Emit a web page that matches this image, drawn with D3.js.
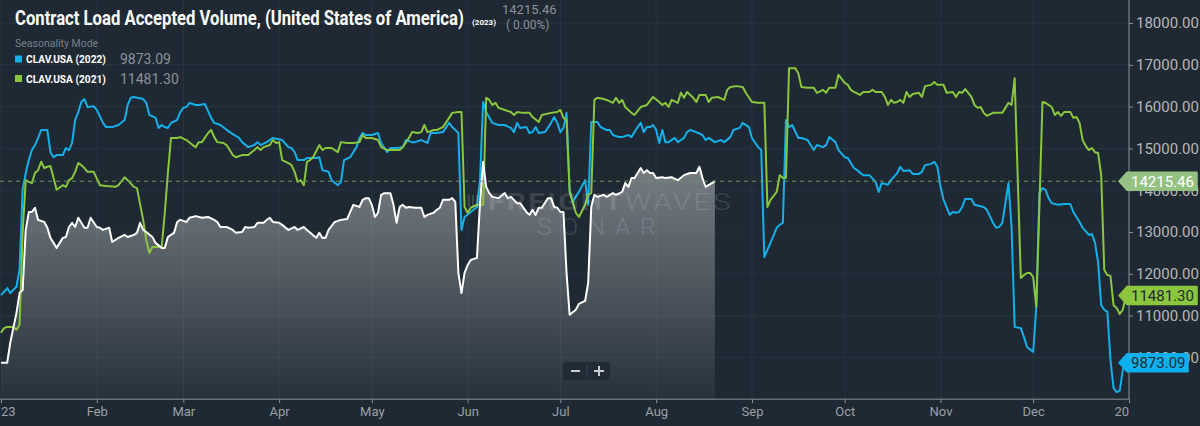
<!DOCTYPE html>
<html><head><meta charset="utf-8">
<script src="https://cdn.jsdelivr.net/npm/d3@7"></script>
<style>
html,body{margin:0;padding:0;background:#1e2933;}
svg{display:block;font-family:Roboto,"Noto Sans",sans-serif;}
</style></head>
<body>
<svg id="chart" width="1200" height="426"></svg>
<script>
// ---- data: [day of year (0 = Jan 1), value] ----
const clav2023 = [[0,9870],[2,9870],[3,10350],[5,11060],[6,11540],[7,11610],[8,13050],[9,13480],[10,13480],[11,13580],[12,13290],[14,13240],[15,13100],[16,12860],[18,12620],[19,12740],[20,12860],[21,12880],[22,13120],[23,13220],[24,13120],[25,13340],[26,13220],[27,13100],[28,13100],[29,13340],[31,13120],[32,13100],[33,13050],[35,13100],[36,12760],[38,12860],[40,12930],[41,12880],[43,12930],[44,12980],[45,13220],[46,13050],[47,13000],[49,12880],[50,12740],[52,12620],[53,12620],[54,12880],[55,12930],[56,12980],[57,13240],[58,13290],[60,13240],[61,13340],[63,13380],[65,13340],[67,13360],[69,13290],[70,13240],[71,13120],[73,13120],[75,13050],[76,12980],[78,13000],[79,13120],[80,13100],[82,13120],[83,13220],[85,13220],[86,13290],[87,13340],[88,13240],[90,13220],[91,13170],[93,13050],[95,13120],[96,13050],[98,13120],[99,13050],[102,12860],[103,12980],[104,12860],[105,12860],[106,13050],[108,13240],[110,13290],[112,13310],[113,13480],[114,13650],[116,13600],[117,13770],[118,13810],[119,13810],[120,13650],[121,13360],[122,13460],[123,13890],[124,13930],[126,13930],[127,13650],[128,13220],[129,13600],[130,13650],[131,13580],[132,13600],[134,13580],[136,13580],[137,13360],[138,13410],[140,13460],[141,13530],[142,13580],[143,13770],[145,13770],[146,13810],[147,13720],[148,12020],[149,11540],[150,12020],[151,12210],[152,12330],[154,12380],[155,13690],[156,14680],[157,14080],[158,13930],[159,13840],[161,13810],[163,13930],[164,13810],[165,13840],[167,13690],[168,13690],[170,13480],[171,13410],[172,13530],[173,13410],[174,13580],[175,13580],[177,13810],[178,13810],[179,13600],[180,13580],[181,13480],[182,13480],[183,12020],[184,11020],[186,11140],[187,11280],[189,11350],[190,11780],[191,13600],[192,13890],[193,13840],[195,13890],[196,13840],[198,13930],[199,13890],[201,13960],[202,14170],[203,14080],[204,14290],[205,14290],[207,14530],[208,14410],[209,14480],[210,14410],[211,14410],[212,14290],[214,14310],[215,14290],[217,14310],[219,14240],[221,14360],[223,14410],[225,14410],[226,14560],[227,14290],[228,14080],[230,14170],[231,14215.46]];

const clav2022 = [[0,11490],[1,11570],[2,11660],[3,11540],[5,11690],[6,12090],[7,14010],[8,14410],[9,14720],[10,14960],[11,15080],[12,15250],[13,15440],[15,15440],[16,14910],[17,14790],[18,14840],[20,14840],[21,15010],[22,14960],[23,15130],[24,15680],[25,15870],[26,16110],[27,16180],[28,15990],[30,16010],[31,15920],[33,15610],[34,15510],[36,15510],[38,15560],[40,15680],[41,16040],[42,16210],[43,16230],[46,16180],[47,16090],[48,15800],[50,15730],[51,15490],[52,15560],[53,15510],[54,15490],[55,15610],[57,15680],[58,15870],[59,15970],[60,15990],[61,16090],[63,16040],[64,16040],[66,16060],[68,15730],[69,15610],[71,15560],[74,15390],[77,15250],[78,15150],[80,15030],[82,15080],[83,15150],[84,15080],[86,15150],[88,15250],[91,15200],[93,15030],[94,15010],[95,14910],[96,14720],[98,14720],[99,14770],[102,14770],[103,14790],[104,14480],[106,14440],[107,14240],[109,14120],[110,14200],[111,14720],[113,14790],[115,15030],[116,15250],[117,15370],[118,15320],[120,15320],[122,15370],[123,15130],[125,14910],[126,15010],[128,15010],[130,15030],[131,15200],[133,15150],[134,15150],[136,15200],[138,15130],[139,15370],[141,15370],[143,15390],[145,15610],[146,15510],[147,15440],[148,15370],[149,13050],[150,13360],[152,13480],[154,13600],[155,14240],[156,16110],[157,15870],[159,15610],[161,15560],[163,15560],[165,15490],[166,15390],[167,15610],[168,15490],[170,15510],[171,15370],[172,15390],[173,15510],[174,15370],[176,15390],[178,15610],[179,15750],[180,15610],[181,15390],[182,15490],[183,15850],[184,14010],[185,13720],[187,13960],[189,14240],[190,13650],[191,15630],[193,15630],[194,15510],[196,15440],[197,15440],[198,15320],[200,15270],[201,15270],[203,15320],[204,15270],[206,15510],[207,15610],[208,15390],[209,15510],[210,15510],[211,15560],[212,15440],[213,15130],[214,15440],[215,15150],[216,15150],[218,15250],[219,15150],[221,15250],[222,15390],[223,15440],[225,15390],[227,15320],[228,15200],[229,15250],[231,15150],[233,15200],[234,15150],[236,15270],[237,15440],[239,15490],[240,15610],[242,15510],[243,15250],[245,15030],[246,14960],[247,12400],[248,12570],[249,12740],[251,13100],[252,13170],[253,13220],[254,15680],[255,15510],[256,15560],[258,15250],[259,15250],[261,15200],[262,15080],[263,14960],[264,15080],[266,15030],[267,15080],[268,15270],[270,15150],[271,14960],[273,14790],[274,14770],[275,14650],[276,14530],[277,14480],[279,14360],[281,14360],[283,14200],[284,13960],[285,14170],[287,14130],[288,14240],[290,14410],[291,14560],[292,14460],[294,14480],[295,14390],[297,14390],[298,14440],[299,14600],[301,14630],[302,14680],[303,14560],[304,14080],[305,13770],[307,13410],[308,13480],[309,13460],[310,13480],[311,13600],[312,13790],[314,13790],[315,13650],[318,13600],[319,13530],[321,13220],[322,13100],[323,13120],[324,13220],[326,14170],[327,13120],[328,10730],[330,10700],[331,10490],[332,10250],[334,10130],[335,11210],[336,13930],[337,14050],[338,14010],[339,13810],[340,13690],[342,13650],[344,13670],[346,13670],[347,13480],[349,13240],[350,13100],[351,13020],[352,12930],[353,12950],[354,12740],[355,12280],[356,11250],[357,11140],[358,11090],[359,9940],[360,9270],[361,9170],[362,9200],[363,9700],[364,9873.09]];

const clav2021 = [[0,10590],[1,10700],[2,10730],[4,10730],[5,10660],[6,10780],[7,12980],[8,14240],[9,14200],[10,14170],[11,14410],[12,14480],[13,14680],[14,14530],[15,14560],[16,14580],[17,14290],[18,14010],[20,14120],[21,14080],[22,14240],[23,14290],[24,14440],[25,14650],[26,14600],[27,14530],[28,14440],[30,14440],[32,14120],[34,14100],[37,14080],[38,14120],[40,14310],[41,14240],[43,14080],[44,14050],[46,13290],[47,12810],[48,12500],[49,12640],[51,12640],[52,12640],[53,13460],[54,14410],[55,15250],[57,15250],[58,15270],[60,15200],[62,15080],[63,15030],[64,15150],[65,15150],[67,15370],[68,15440],[69,15270],[70,15150],[72,15130],[73,15080],[75,14840],[76,14790],[78,14840],[80,14840],[82,14960],[83,15030],[84,14960],[85,15030],[87,15080],[88,15200],[89,15130],[90,15150],[91,14720],[93,14650],[94,14600],[95,14440],[96,14200],[97,14240],[98,14120],[99,14680],[100,14720],[101,14790],[103,15080],[104,14960],[105,15010],[107,15010],[109,14910],[110,15150],[112,15130],[114,15130],[116,15150],[117,15320],[118,15250],[120,15250],[122,15200],[123,15030],[125,14960],[127,14960],[129,14960],[130,15030],[132,15250],[133,15390],[135,15370],[136,15390],[137,15560],[138,15390],[140,15440],[141,15440],[143,15510],[145,15730],[146,15850],[148,15870],[149,15870],[150,13600],[151,13460],[152,13580],[154,13650],[156,13650],[157,16210],[158,16160],[159,16040],[160,16090],[161,15970],[163,15920],[165,15870],[166,15800],[167,15870],[169,15850],[171,15850],[172,15750],[174,15630],[175,15800],[178,15850],[180,15870],[181,15920],[182,15730],[183,15680],[184,13960],[186,13460],[187,13360],[189,13650],[190,13890],[191,13930],[192,16160],[193,16210],[195,16180],[196,16160],[198,16090],[199,16210],[200,16090],[201,16160],[202,15990],[204,15850],[205,15800],[207,15990],[209,16040],[211,16230],[213,16110],[214,16040],[215,16090],[216,15990],[217,16160],[219,16090],[220,16330],[221,16210],[222,16350],[224,16210],[225,16110],[226,16280],[228,16280],[229,16110],[230,16210],[232,16230],[234,16160],[235,16400],[236,16470],[238,16490],[240,16470],[241,16330],[243,16110],[245,16090],[246,16090],[247,16090],[248,13600],[249,13770],[251,13960],[252,14360],[253,14290],[254,14290],[255,16920],[257,16920],[258,16800],[259,16470],[261,16450],[263,16450],[264,16330],[266,16400],[267,16330],[268,16450],[270,16450],[271,16760],[273,16570],[274,16520],[275,16400],[276,16350],[278,16280],[279,16350],[281,16350],[282,16400],[283,16350],[285,16350],[286,16230],[287,16040],[288,16160],[289,16090],[290,16110],[291,16160],[292,16090],[293,16350],[294,16230],[295,16300],[297,16330],[298,16230],[299,16490],[301,16520],[302,16590],[303,16520],[305,16520],[306,16330],[308,16350],[309,16230],[310,16350],[311,16330],[312,16420],[314,16230],[315,16040],[316,15970],[317,15990],[318,15850],[319,15780],[321,15850],[322,15850],[324,15850],[325,15970],[326,16090],[327,16040],[328,16680],[330,11900],[331,11970],[332,12020],[333,12020],[334,11920],[335,11210],[336,13600],[337,16110],[338,16090],[340,15990],[341,15800],[342,15870],[343,15780],[344,15870],[346,15870],[347,15730],[348,15750],[349,15610],[350,15200],[351,15060],[352,14960],[353,15010],[354,14910],[355,14890],[356,14360],[357,12090],[358,11970],[359,11950],[360,11250],[361,11180],[362,11040],[363,11140],[364,11481.30]];

const yTicks = [10000, 11000, 12000, 13000, 14000, 15000, 16000, 17000, 18000];
const yearEdgeLabels = ["23", "20"];   // year labels as they show at the plot edges
const seriesNames = ["CLAV.USA (2022)", "CLAV.USA (2021)"];
const lastValues = [9873.09, 11481.30];
const current2023 = 14215.46;
const changeText = "( 0.00%)";
const titleText = "Contract Load Accepted Volume, (United States of America)";
const titleYear = "(2023)";

// ---- setup ----
const svg = d3.select("#chart");
const W = 1200, H = 426, plotRight = 1129, plotBottom = 399.2;
const start = new Date(2023, 0, 1), end = new Date(2024, 0, 1);
const x = d3.scaleTime().domain([start, end]).range([1, plotRight]);
const y = d3.scaleLinear().domain([9000, 18000]).range([plotBottom, 23]);
const dayDate = d => d3.timeDay.offset(start, d);

svg.append("rect").attr("width", W).attr("height", H).attr("fill", "#1e2933");

const defs = svg.append("defs");
const grad = defs.append("linearGradient").attr("id", "areaGrad")
  .attr("gradientUnits", "userSpaceOnUse").attr("x1", 0).attr("x2", 0).attr("y1", 160).attr("y2", plotBottom);
grad.append("stop").attr("offset", 0).attr("stop-color", "#ffffff").attr("stop-opacity", 0.40);
grad.append("stop").attr("offset", 1).attr("stop-color", "#ffffff").attr("stop-opacity", 0.04);
defs.append("clipPath").attr("id", "plotClip").append("rect")
  .attr("x", 0).attr("y", 0).attr("width", plotRight).attr("height", plotBottom);

// ---- grid ----
const months = d3.timeMonth.range(start, d3.timeDay.offset(end, 1));
const grid = svg.append("g");
grid.selectAll("line.h").data(yTicks).join("line")
  .attr("x1", 0).attr("x2", plotRight).attr("y1", d => y(d)).attr("y2", d => y(d))
  .attr("stroke", "#293541").attr("stroke-width", 1);
grid.selectAll("line.v").data(months).join("line")
  .attr("x1", d => x(d)).attr("x2", d => x(d)).attr("y1", 0).attr("y2", plotBottom)
  .attr("stroke", "#293541").attr("stroke-width", 1);

// ---- area for 2023 ----
const plot = svg.append("g").attr("clip-path", "url(#plotClip)");
const area = d3.area().x(d => x(dayDate(d[0]))).y0(plotBottom).y1(d => y(d[1]));
plot.append("path").datum(clav2023).attr("d", area).attr("fill", "url(#areaGrad)");

// ---- watermark (scaled to width, not stretched text) ----
function fitText(g, x0, y0, width, build) {
  const gg = g.append("g");
  const t = gg.append("text").attr("x", 0).attr("y", 0);
  build(t);
  const w = t.node().getComputedTextLength();
  gg.attr("transform", `translate(${x0},${y0}) scale(${width / w},1)`);
  return t;
}
const wm = svg.append("g").attr("fill", "#ffffff").attr("fill-opacity", 0.15);
wm.append("rect").attr("x", 468).attr("y", 195).attr("width", 2).attr("height", 12);
wm.append("rect").attr("x", 472).attr("y", 195).attr("width", 2).attr("height", 12);
wm.append("rect").attr("x", 476).attr("y", 195).attr("width", 2).attr("height", 12);
fitText(wm, 488, 210, 245, t => {
  t.attr("font-size", 24).attr("letter-spacing", 2);
  t.append("tspan").attr("font-weight", 700).text("FREIGHT");
  t.append("tspan").attr("font-weight", 300).text("WAVES");
});
fitText(wm, 537, 235, 128, t => {
  t.attr("font-size", 24).attr("font-weight", 300).attr("letter-spacing", 9).text("SONAR");
});

// ---- dashed current line ----
svg.append("line").attr("x1", 0).attr("x2", plotRight)
  .attr("y1", y(current2023)).attr("y2", y(current2023))
  .attr("stroke", "#6f9460").attr("stroke-width", 1).attr("stroke-dasharray", "4,4");

// ---- lines ----
const line = d3.line().x(d => x(dayDate(d[0]))).y(d => y(d[1]));
plot.append("path").datum(clav2022).attr("d", line).attr("fill", "none")
  .attr("stroke", "#15b0ea").attr("stroke-width", 2).attr("stroke-linejoin", "round");
plot.append("path").datum(clav2021).attr("d", line).attr("fill", "none")
  .attr("stroke", "#8cc63f").attr("stroke-width", 2).attr("stroke-linejoin", "round");
plot.append("path").datum(clav2023).attr("d", line).attr("fill", "none")
  .attr("stroke", "#ffffff").attr("stroke-width", 2).attr("stroke-linejoin", "round");

// ---- zoom control ----
const zc = svg.append("g");
zc.append("rect").attr("x", 563).attr("y", 362).attr("width", 47).attr("height", 18).attr("rx", 3)
  .attr("fill", "#1f2a35").attr("fill-opacity", 0.9);
zc.append("line").attr("x1", 587).attr("x2", 587).attr("y1", 365).attr("y2", 377).attr("stroke", "#3b4753");
zc.append("rect").attr("x", 571).attr("y", 370).attr("width", 9).attr("height", 2).attr("fill", "#c9cdd1");
zc.append("rect").attr("x", 594).attr("y", 370).attr("width", 10).attr("height", 2).attr("fill", "#c9cdd1");
zc.append("rect").attr("x", 598).attr("y", 366).attr("width", 2).attr("height", 10).attr("fill", "#c9cdd1");

// ---- y axis (right) ----
svg.append("line").attr("x1", plotRight).attr("x2", plotRight).attr("y1", 0).attr("y2", plotBottom)
  .attr("stroke", "#8a9096").attr("stroke-width", 1);
const yAxis = svg.append("g").attr("transform", `translate(${plotRight},0)`)
  .call(d3.axisRight(y).tickValues(yTicks).tickFormat(d3.format(".2f")).tickSize(4).tickPadding(3));
yAxis.select(".domain").remove();
yAxis.selectAll(".tick line").attr("stroke", "#8a9096");
yAxis.selectAll(".tick text").attr("fill", "#b3b8bd").attr("font-size", 15)
  .attr("font-family", "Roboto, sans-serif");

// ---- x axis ----
const xTicks = months.concat([end]).filter((d, i, a) => a.findIndex(e => +e === +d) === i);
const xAxis = svg.append("g").attr("transform", `translate(0,${plotBottom})`)
  .call(d3.axisBottom(x).tickValues(xTicks)
    .tickFormat(d => d.getMonth() === 0 ? "" : d3.timeFormat("%b")(d))
    .tickSize(4).tickPadding(4).tickSizeOuter(0));
xAxis.select(".domain").attr("stroke", "#8a9096").attr("d", `M0,0H${plotRight}`);
xAxis.selectAll(".tick line").attr("stroke", "#8a9096");
xAxis.selectAll(".tick text").attr("fill", "#9aa0a6").attr("font-size", 13)
  .attr("font-family", "Roboto, sans-serif");
// year labels, visible only in part at the two plot edges
[start, end].forEach((d, i) => {
  svg.append("text").attr("x", x(d)).attr("y", plotBottom + 8).attr("dy", "0.71em")
    .attr("text-anchor", i === 0 ? "start" : "end").attr("fill", "#9aa0a6").attr("font-size", 13)
    .text(yearEdgeLabels[i]);
});

// ---- right-side value labels ----
function valueTag(v, fill, textFill, w) {
  const yc = y(v), x0 = 1119, h = 9;
  const g = svg.append("g");
  g.append("path").attr("d", `M${x0},${yc}L${x0 + 8},${yc - h}H${x0 + w}V${yc + h}H${x0 + 8}Z`)
    .attr("fill", fill).attr("stroke", fill).attr("stroke-linejoin", "round").attr("stroke-width", 1.5);
  g.append("text").attr("x", x0 + 12).attr("y", yc).attr("dy", "0.36em")
    .attr("font-size", 15).attr("fill", textFill).text(d3.format(".2f")(v));
}
valueTag(current2023, "#95c282", "#ffffff", 78);
valueTag(lastValues[1], "#8cc63f", "#1e2933", 78);
valueTag(lastValues[0], "#0fb0ee", "#1e2933", 69);

// ---- title & legend ----
fitText(svg, 15, 25, 449, t => {
  t.attr("font-size", 20).attr("font-weight", 700).attr("fill", "#ffffff").text(titleText);
});
svg.append("text").attr("x", 472).attr("y", 25).attr("font-size", 8).attr("font-weight", 700)
  .attr("fill", "#ffffff").text(titleYear);
svg.append("text").attr("x", 502).attr("y", 14).attr("font-size", 13).attr("fill", "#8c9298")
  .text(d3.format(".2f")(current2023));
svg.append("text").attr("x", 506).attr("y", 29).attr("font-size", 12).attr("fill", "#8c9298")
  .attr("xml:space", "preserve").text(changeText);
svg.append("text").attr("x", 15).attr("y", 47).attr("font-size", 10.5).attr("fill", "#76808a")
  .text("Seasonality Mode");
const legColors = ["#15b0ea", "#8cc63f"];
seriesNames.forEach((n, i) => {
  const yy = 59 + i * 19.5;
  svg.append("rect").attr("x", 15).attr("y", yy - 3.5).attr("width", 7).attr("height", 7).attr("fill", legColors[i]);
  fitText(svg, 26, yy + 4, 80, t => {
    t.attr("font-size", 11.5).attr("font-weight", 700).attr("fill", "#ffffff").text(n);
  });
  svg.append("text").attr("x", 120).attr("y", yy + 5).attr("font-size", 14).attr("fill", "#8c9298")
    .text(d3.format(".2f")(lastValues[i]));
});
</script>
</body></html>
